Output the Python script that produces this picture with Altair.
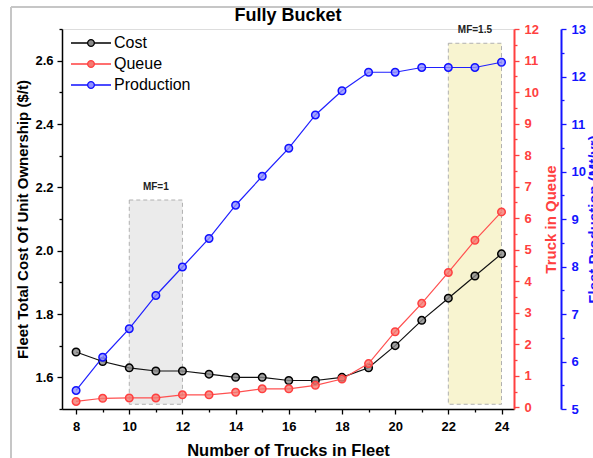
import altair as alt
import pandas as pd

# ---------------- data ----------------
trucks = list(range(8, 25))
cost = [1.68, 1.65, 1.63, 1.62, 1.62, 1.61, 1.60, 1.60, 1.59, 1.59, 1.60, 1.63, 1.70, 1.78, 1.85, 1.92, 1.99]
queue = [0.19, 0.29, 0.30, 0.30, 0.40, 0.40, 0.48, 0.59, 0.59, 0.70, 0.90, 1.39, 2.40, 3.30, 4.28, 5.30, 6.20]
production = [5.39, 6.09, 6.69, 7.39, 7.99, 8.59, 9.29, 9.90, 10.49, 11.19, 11.70, 12.09, 12.09, 12.19, 12.19, 12.19, 12.30]

series_names = ["Cost", "Queue", "Production"]
stroke_colors = ["#000000", "#ff4040", "#1010ff"]
fill_colors = ["#8a8a8a", "#f47a72", "#9090ff"]

zone_labels = ["MF=1", "MF=1.5"]
zone_start = [10, 22]
zone_end = [12, 24]
zone_top = [2.16, 2.655]
zone_bottom = [1.515, 1.515]
zone_fills = ["#ebebeb", "#f8f4d0"]

x_ticks = list(range(8, 25))
left_ticks = [1.5, 1.6, 1.7, 1.8, 1.9, 2.0, 2.1, 2.2, 2.3, 2.4, 2.5, 2.6, 2.7]
queue_ticks = [i / 2 for i in range(0, 25)]
prod_ticks = [5 + i / 2 for i in range(0, 17)]

# ---------------- tables ----------------
df = pd.DataFrame({
    "n": trucks * 3,
    "series": ["Cost"] * len(trucks) + ["Queue"] * len(trucks) + ["Production"] * len(trucks),
    "value": cost + queue + production,
})
zones = pd.DataFrame({
    "label": zone_labels, "x1": zone_start, "x2": zone_end,
    "top": zone_top, "bottom": zone_bottom, "fill": zone_fills,
})
zones["xm"] = (zones["x1"] + zones["x2"]) / 2

FONT = "Liberation Sans"
W, H = 452, 380

xscale = alt.Scale(domain=[7.47, 24.47], nice=False, zero=False)
x_axis = alt.Axis(
    values=x_ticks, title="Number of Trucks in Fleet", grid=False,
    labelExpr="datum.value % 2 === 0 ? datum.label : ''",
    tickSize={"condition": {"test": "datum.value % 2 === 0", "value": 5}, "value": 3},
    tickColor="black", tickWidth=1.3, domainColor="black", domainWidth=1.5,
    labelFont=FONT, labelFontSize=13, labelFontWeight="bold", labelColor="black",
    labelPadding=6, labelFlush=False, labelOverlap=False,
    titleFont=FONT, titleFontSize=16.5, titleFontWeight="bold", titleColor="black",
    titlePadding=9,
)
x_enc = alt.X("n:Q", scale=xscale, axis=x_axis)

stroke_scale = alt.Scale(domain=series_names, range=stroke_colors)
fill_scale = alt.Scale(domain=series_names, range=fill_colors)

legend_path = ("M-2.5,0L-0.42,0M0.42,0L2.5,0"
               "M-0.42,0A0.42,0.42,0,1,1,0.42,0A0.42,0.42,0,1,1,-0.42,0Z")
legend = alt.Legend(
    title=None, orient="none", legendX=20, legendY=5, padding=0,
    symbolType=legend_path, symbolSize=256, symbolStrokeWidth=1.3,
    labelFont=FONT, labelFontSize=16, labelColor="black", labelOffset=14,
    rowPadding=4,
)

base = alt.Chart(df)


def series_layer(name, color, yscale, axis):
    y_enc = alt.Y("value:Q", scale=yscale, axis=axis)
    line = base.transform_filter(alt.datum.series == name).mark_line(
        color=color, strokeWidth=1.2
    ).encode(x=x_enc, y=y_enc)
    pts = base.transform_filter(alt.datum.series == name).mark_point(
        filled=True, size=57, strokeWidth=1.5, fillOpacity=0.8, opacity=1
    ).encode(
        x=x_enc, y=y_enc,
        stroke=alt.Stroke("series:N", scale=stroke_scale, legend=legend),
        fill=alt.Fill("series:N", scale=fill_scale, legend=legend),
    )
    return line, pts


# left axis (cost)
left_scale = alt.Scale(domain=[1.5, 2.7], nice=False, zero=False)
left_axis = alt.Axis(
    values=left_ticks, title="Fleet Total Cost Of Unit Ownership ($/t)", grid=False,
    labelExpr="round(datum.value * 10) % 2 === 0 ? format(datum.value, '.1f') : ''",
    tickSize={"condition": {"test": "round(datum.value * 10) % 2 === 0", "value": 5}, "value": 3},
    tickColor="black", tickWidth=1.3, domainColor="black", domainWidth=1.5,
    labelFont=FONT, labelFontSize=13, labelFontWeight="bold", labelColor="black",
    labelPadding=4, labelOverlap=False, labelFlush=False,
    titleFont=FONT, titleFontSize=15, titleFontWeight="bold", titleColor="black",
    titlePadding=4,
)
cost_line, cost_pts = series_layer("Cost", "#111111", left_scale, left_axis)

zone_base = alt.Chart(zones)
rects = zone_base.mark_rect(
    stroke="#b0b0b0", strokeDash=[4, 3], strokeWidth=1
).encode(
    x=alt.X("x1:Q", scale=xscale, axis=x_axis), x2="x2:Q",
    y=alt.Y("top:Q", scale=left_scale, axis=left_axis), y2="bottom:Q",
    color=alt.Color("fill:N", scale=None, legend=None),
)
zone_text = zone_base.mark_text(
    font=FONT, fontSize=10, fontWeight="bold", color="#222222",
    baseline="bottom", dy=-8
).encode(
    x=alt.X("xm:Q", scale=xscale, axis=x_axis),
    y=alt.Y("top:Q", scale=left_scale, axis=left_axis),
    text="label:N",
)
frame_top = alt.Chart(df).mark_rule(color="#c6c6c6", strokeWidth=2).encode(
    x=alt.value(-51), x2=alt.value(600), y=alt.value(-22)
)
frame_left = alt.Chart(df).mark_rule(color="#c6c6c6", strokeWidth=2).encode(
    x=alt.value(-51), y=alt.value(-22), y2=alt.value(440)
)

left_layer = alt.layer(frame_top, frame_left, rects, zone_text, cost_line, cost_pts)

# right axis (queue)
red = "#ff4040"
q_scale = alt.Scale(domain=[-0.05, 12], nice=False, zero=False)
q_axis = alt.Axis(
    orient="right", values=queue_ticks, title="Truck in Queue", grid=False,
    labelExpr="datum.value % 1 === 0 ? format(datum.value, 'd') : ''",
    tickSize={"condition": {"test": "datum.value % 1 === 0", "value": 5}, "value": 3},
    tickColor=red, tickWidth=1.3, domainColor=red, domainWidth=2,
    labelFont=FONT, labelFontSize=13, labelFontWeight="bold", labelColor=red,
    labelPadding=5, labelOverlap=False, labelFlush=False,
    titleFont=FONT, titleFontSize=15, titleFontWeight="bold", titleColor=red,
    titlePadding=5, titleAngle=270, titleBaseline="top",
)
q_line, q_pts = series_layer("Queue", "#ff5050", q_scale, q_axis)
queue_layer = alt.layer(q_line, q_pts)

# second right axis (production)
blue = "#1414ff"
p_scale = alt.Scale(domain=[5, 13], nice=False, zero=False)
p_axis = alt.Axis(
    orient="right", offset=47, values=prod_ticks, title="Fleet Production (Mt/yr)", grid=False,
    labelExpr="datum.value % 1 === 0 ? format(datum.value, 'd') : ''",
    tickSize={"condition": {"test": "datum.value % 1 === 0", "value": 5}, "value": 3},
    tickColor=blue, tickWidth=1.3, domainColor=blue, domainWidth=2,
    labelFont=FONT, labelFontSize=13, labelFontWeight="bold", labelColor=blue,
    labelPadding=5, labelOverlap=False, labelFlush=False,
    titleFont=FONT, titleFontSize=15, titleFontWeight="bold", titleColor=blue,
    titlePadding=1, titleAngle=270, titleBaseline="top",
)
p_line, p_pts = series_layer("Production", "#2020ff", p_scale, p_axis)
prod_layer = alt.layer(p_line, p_pts)

chart = alt.layer(left_layer, queue_layer, prod_layer).resolve_scale(
    y="independent"
).properties(
    width=W, height=H,
    title=alt.Title("Fully Bucket", font=FONT, fontSize=18, fontWeight="bold",
                    color="black", anchor="middle", offset=-19),
    autosize=alt.AutoSizeParams(type="none"),
    padding={"left": 62, "top": 29, "right": 593 - 62 - W, "bottom": 458 - 29 - H},
).configure_view(stroke=None).configure(background="white")

chart.save("out.html", embed_options={"renderer": "svg", "actions": False})
